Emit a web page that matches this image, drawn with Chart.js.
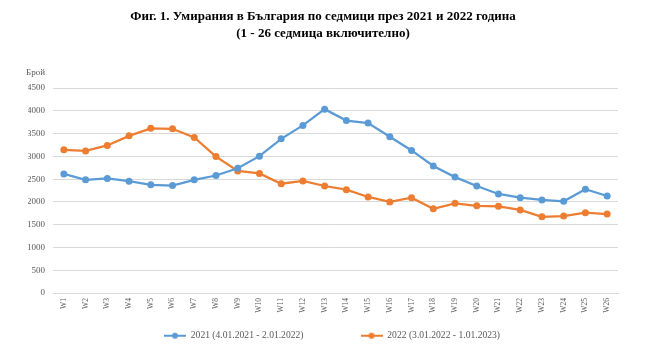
<!DOCTYPE html>
<html><head><meta charset="utf-8">
<script src="https://cdn.jsdelivr.net/npm/chart.js@4/dist/chart.umd.min.js"></script>
<style>html,body{margin:0;padding:0;background:#fff;}#wrap{width:657px;height:353px;}</style>
</head><body><div id="wrap"><canvas id="c" width="657" height="353"></canvas></div>
<script>
const categories = ['W1','W2','W3','W4','W5','W6','W7','W8','W9','W10','W11','W12','W13','W14','W15','W16','W17','W18','W19','W20','W21','W22','W23','W24','W25','W26'];
const deaths2021 = [2615,2485,2515,2455,2375,2360,2485,2580,2740,3005,3385,3680,4035,3785,3730,3430,3130,2790,2545,2350,2175,2095,2045,2015,2280,2130];
const deaths2022 = [3145,3120,3240,3450,3615,3605,3415,2995,2680,2625,2400,2460,2350,2270,2110,2000,2095,1850,1970,1915,1905,1825,1675,1690,1765,1735];
const seriesLabels = ['2021 (4.01.2021 - 2.01.2022)','2022 (3.01.2022 - 1.01.2023)'];
const titleLines = ['Фиг. 1. Умирания в България по седмици през 2021 и 2022 година','(1 - 26 седмица включително)'];
const yAxisLabel = 'Брой';
const yTicks = {min:0,max:4500,step:500};

const BLUE = '#5B9BD5', ORANGE = '#ED7D31';
const ICON_W = 22, LEGEND_GAP = 57;
function legendIcon(color){
  const c = document.createElement('canvas'); c.width = ICON_W; c.height = 10;
  const x = c.getContext('2d');
  x.strokeStyle = color; x.lineWidth = 2;
  x.beginPath(); x.moveTo(0,5); x.lineTo(ICON_W,5); x.stroke();
  x.fillStyle = color; x.beginPath(); x.arc(ICON_W/2,5,3,0,Math.PI*2); x.fill();
  return c;
}
const icons = [legendIcon(BLUE), legendIcon(ORANGE)];

const yLabelPlugin = {
  id:'yLabel',
  afterLayout(chart){
    // move the legend row up close under the axis labels, and slightly right
    const lg = chart.legend;
    if (!lg) return;
    const dx = 9;
    lg.left += dx; lg.right += dx;
    const top = 335.7 - LEGEND_GAP - 4.8;
    lg.top = top; lg.bottom = top + lg.height;
  },
  afterDraw(chart){
    const ctx = chart.ctx, a = chart.chartArea;
    ctx.save();
    ctx.font = '9px "Liberation Serif"';
    ctx.fillStyle = '#595959';
    ctx.textAlign = 'left'; ctx.textBaseline = 'middle';
    ctx.fillText(yAxisLabel, a.left - 27, a.top - 15.5);
    ctx.restore();
  }
};

new Chart(document.getElementById('c'), {
  type:'line',
  data:{
    labels: categories,
    datasets:[
      {label: seriesLabels[0], data: deaths2021, borderColor: BLUE, backgroundColor: BLUE, borderWidth: 2.25, pointRadius: 3.5, pointHoverRadius: 3.5, pointBackgroundColor: BLUE, pointBorderWidth: 0, tension: 0},
      {label: seriesLabels[1], data: deaths2022, borderColor: ORANGE, backgroundColor: ORANGE, borderWidth: 2.25, pointRadius: 3.5, pointHoverRadius: 3.5, pointBackgroundColor: ORANGE, pointBorderWidth: 0, tension: 0}
    ]
  },
  options:{
    responsive:false, animation:false, devicePixelRatio:1,
    layout:{padding:{left:28, right:39, top:0, bottom:-41.3}},
    plugins:{
      title:{display:true, text:titleLines, color:'#000', font:{family:'"Liberation Serif"', size:13, weight:'bold', lineHeight:1.3}, padding:{top:8.5, bottom:45.7}},
      legend:{position:'bottom', labels:{usePointStyle:true, pointStyleWidth:ICON_W, color:'#595959', font:{family:'"Liberation Serif"', size:9.6}, padding:LEGEND_GAP,
        generateLabels(chart){
          return chart.data.datasets.map((d,i)=>({text:d.label, fillStyle:d.borderColor, strokeStyle:d.borderColor, pointStyle: icons[i], fontColor:'#595959', datasetIndex:i, hidden:false, lineWidth:0}));
        }}},
      tooltip:{enabled:false}
    },
    scales:{
      x:{offset:true, grid:{display:false, drawTicks:false}, border:{color:'#D9D9D9'},
         ticks:{color:'#595959', font:{family:'"Liberation Serif"', size:7.5}, minRotation:90, maxRotation:90, padding:5, autoSkip:false}},
      y:{min:yTicks.min, max:yTicks.max, grid:{color:'#D9D9D9', drawTicks:false}, border:{display:false},
         ticks:{stepSize:yTicks.step, color:'#595959', font:{family:'"Liberation Serif"', size:9}, padding:8, callback:(v)=>String(v)},
         afterFit(s){ s.width = 25; }}
    }
  },
  plugins:[yLabelPlugin]
});
</script></body></html>
